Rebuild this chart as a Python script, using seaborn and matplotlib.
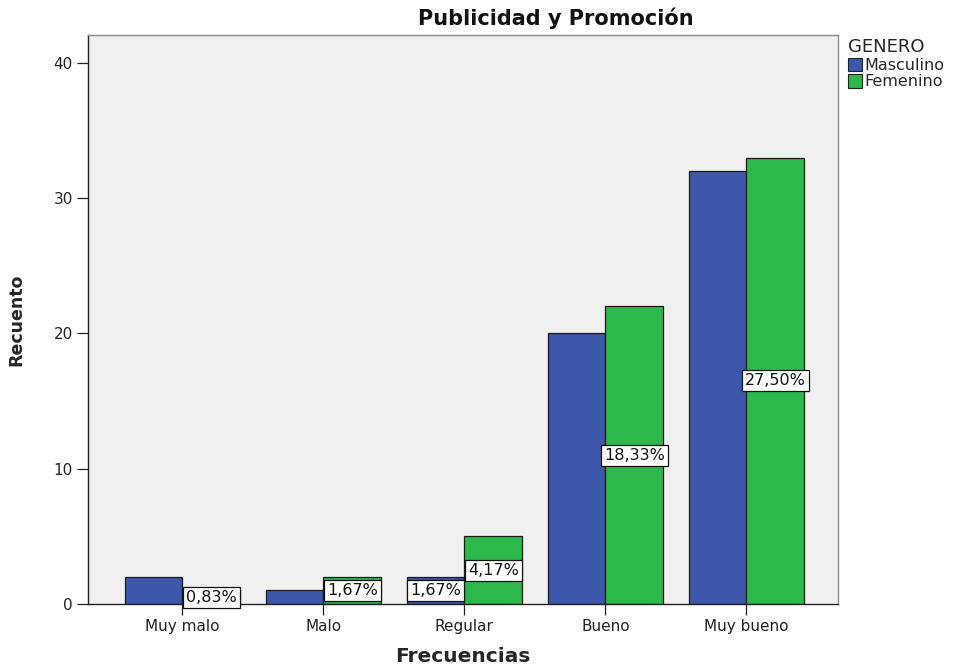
import matplotlib
matplotlib.use("Agg")
import matplotlib.pyplot as plt
import seaborn as sns
import pandas as pd
from matplotlib.patches import Patch

# Frequency counts per response category and gender
categorias = ["Muy malo", "Malo", "Regular", "Bueno", "Muy bueno"]
masculino = [2, 1, 2, 20, 32]
femenino = [1, 2, 5, 22, 33]
generos = ["Masculino", "Femenino"]
colores = ["#3D57AA", "#2DB84B"]

# Bars that carry a percentage label (gender, category)
etiquetas = [("Femenino", "Muy malo"), ("Femenino", "Malo"),
             ("Masculino", "Regular"), ("Femenino", "Regular"),
             ("Femenino", "Bueno"), ("Femenino", "Muy bueno")]

total = sum(masculino) + sum(femenino)

df = pd.DataFrame({
    "Frecuencias": categorias * 2,
    "Recuento": masculino + femenino,
    "GENERO": [generos[0]] * len(categorias) + [generos[1]] * len(categorias),
})

sns.set_theme(style="white")
plt.rcParams["font.family"] = ["DejaVu Sans"]

fig = plt.figure(figsize=(9.65, 6.68), dpi=100)
ax = fig.add_axes([88 / 965, 64 / 668, 750 / 965, 569 / 668])
ax.set_facecolor("#F0F0F0")

sns.barplot(data=df, x="Frecuencias", y="Recuento", hue="GENERO",
            order=categorias, hue_order=generos, palette=colores,
            width=0.82, edgecolor="#1a1a1a", linewidth=0.9,
            saturation=1, legend=False, ax=ax)

ax.set_ylim(0, 42.07)
ax.set_xlim(-0.67, 4.65)
ax.set_yticks([0, 10, 20, 30, 40])
ax.tick_params(axis="both", which="both", direction="out", length=8,
               width=0.9, color="#222222", labelsize=11, labelcolor="#222222",
               left=True, bottom=True, pad=3)

for side in ["left", "bottom"]:
    ax.spines[side].set_color("#222222")
    ax.spines[side].set_linewidth(1.0)
for side in ["top", "right"]:
    ax.spines[side].set_color("#8a8a8a")
    ax.spines[side].set_linewidth(1.0)

ax.set_xlabel("Frecuencias", fontsize=14.5, fontweight="bold", labelpad=9)
ax.set_ylabel("Recuento", fontsize=12.5, fontweight="bold", labelpad=20)

# Percentage labels centred on the chosen bars
for gi, gen in enumerate(generos):
    cont = ax.containers[gi]
    for ci, cat in enumerate(categorias):
        if (gen, cat) not in etiquetas:
            continue
        bar = cont[ci]
        valor = masculino[ci] if gen == "Masculino" else femenino[ci]
        texto = f"{100 * valor / total:.2f}".replace(".", ",") + "%"
        ax.text(bar.get_x() + bar.get_width() / 2, valor / 2, texto,
                ha="center", va="center", fontsize=11.5, color="#111111",
                bbox=dict(boxstyle="square,pad=0.18", fc="white",
                          ec="#111111", lw=0.9), zorder=5)

fig.text(556 / 965, 1 - 18 / 668, "Publicidad y Promoción", ha="center",
         va="center", fontsize=15, fontweight="bold", color="#111111")

handles = [Patch(facecolor=c, edgecolor="#222222", linewidth=0.8) for c in colores]
leg = fig.legend(handles, generos, title="GENERO", loc="upper left",
                 bbox_to_anchor=(848 / 965, 1 - 38 / 668), frameon=False,
                 fontsize=11.5, title_fontsize=13, handlelength=0.85,
                 handleheight=0.9, handletextpad=0.2, labelspacing=0.1,
                 borderpad=0, borderaxespad=0)
leg._legend_box.align = "left"

fig.savefig("out.png", dpi=100)
